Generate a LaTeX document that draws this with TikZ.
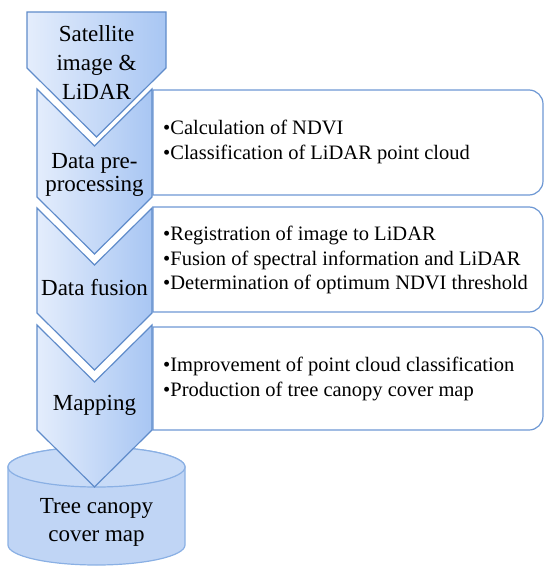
\documentclass[tikz,border=0pt]{standalone}
\usepackage{fontspec}
\setmainfont{LiberationSerif}[Extension=.ttf, UprightFont=*-Regular, BoldFont=*-Bold, ItalicFont=*-Italic, BoldItalicFont=*-BoldItalic]
\usepackage{tikz}

\definecolor{chevlight}{RGB}{228,237,252}
\definecolor{chevdark}{RGB}{168,198,243}
\definecolor{chevline}{RGB}{96,140,202}
\definecolor{boxline}{RGB}{110,152,212}
\definecolor{cylfill}{RGB}{192,213,245}
\definecolor{cyltop}{RGB}{200,219,247}
\definecolor{cylline}{RGB}{138,176,228}

\tikzset{
    chevron/.style={draw=chevline, line width=1.2pt, left color=chevlight, right color=chevdark},
    infobox/.style={draw=boxline, line width=1.2pt, fill=white},
    cylbody/.style={draw=cylline, line width=1.2pt, fill=cylfill},
    steptext/.style={align=center, inner sep=0pt},
    itemtext/.style={font=\fontsize{20.5}{24.5}\selectfont, align=left, anchor=west, inner sep=0pt},
}

\begin{document}
\begin{tikzpicture}[x=1pt, y=-1pt]
    \useasboundingbox (0,0) rectangle (545,567);

    % Boxes with the tasks of each step
    \draw[infobox] (300,90) [rounded corners=14pt] -- (543,90) -- (543,195) -- (300,195) [sharp corners] -- (153,195) -- (153,90) -- cycle;
    \draw[infobox] (300,207) [rounded corners=14pt] -- (543,207) -- (543,312) -- (300,312) [sharp corners] -- (153,312) -- (153,207) -- cycle;
    \draw[infobox] (300,327) [rounded corners=14pt] -- (543,327) -- (543,430) -- (300,430) [sharp corners] -- (153,430) -- (153,327) -- cycle;
    \node[itemtext] (prepitems) at (163,142) {•Calculation of NDVI\\•Classification of LiDAR point cloud};
    \node[itemtext] (fusionitems) at (163,260) {•Registration of image to LiDAR\\•Fusion of spectral information and LiDAR\\•Determination of optimum NDVI threshold};
    \node[itemtext] (mapitems) at (163,379) {•Improvement of point cloud classification\\•Production of tree canopy cover map};

    % Output - cylinder
    \draw[cylbody] (8,467) -- (8,545) arc[start angle=180, end angle=360, x radius=88.5pt, y radius=20pt]
        -- (185,467) arc[start angle=0, end angle=180, x radius=88.5pt, y radius=20pt] -- cycle;
    \draw[draw=cylline, line width=1.2pt, fill=cyltop] (96.5,467) ellipse [x radius=88.5pt, y radius=20pt];
    \node[steptext, font=\fontsize{23}{28}\selectfont] (tcc) at (96.5,522) {Tree canopy\\cover map};

    % Chevrons of the workflow
    \draw[chevron] (27,12) -- (166,12) -- (166,68) -- (96.5,137) -- (27,68) -- cycle;
    \draw[chevron] (37,89) -- (94.5,146) -- (152,89) -- (152,197) -- (94.5,254) -- (37,197) -- cycle;
    \draw[chevron] (37,208) -- (94.5,265) -- (152,208) -- (152,313) -- (94.5,370) -- (37,313) -- cycle;
    \draw[chevron] (37,325) -- (94.5,382) -- (152,325) -- (152,430) -- (94.5,487) -- (37,430) -- cycle;

    \node[steptext, font=\fontsize{23}{29}\selectfont] (sat) at (96.5,63) {Satellite\\image \&\\LiDAR};
    \node[steptext, font=\fontsize{23}{22.5}\selectfont] (prep) at (94.5,175) {Data pre-\\processing};
    \node[steptext, font=\fontsize{23}{28}\selectfont] (fusion) at (94.5,288) {Data fusion};
    \node[steptext, font=\fontsize{23}{28}\selectfont] (mapping) at (94.5,405) {Mapping};
\end{tikzpicture}
\end{document}
